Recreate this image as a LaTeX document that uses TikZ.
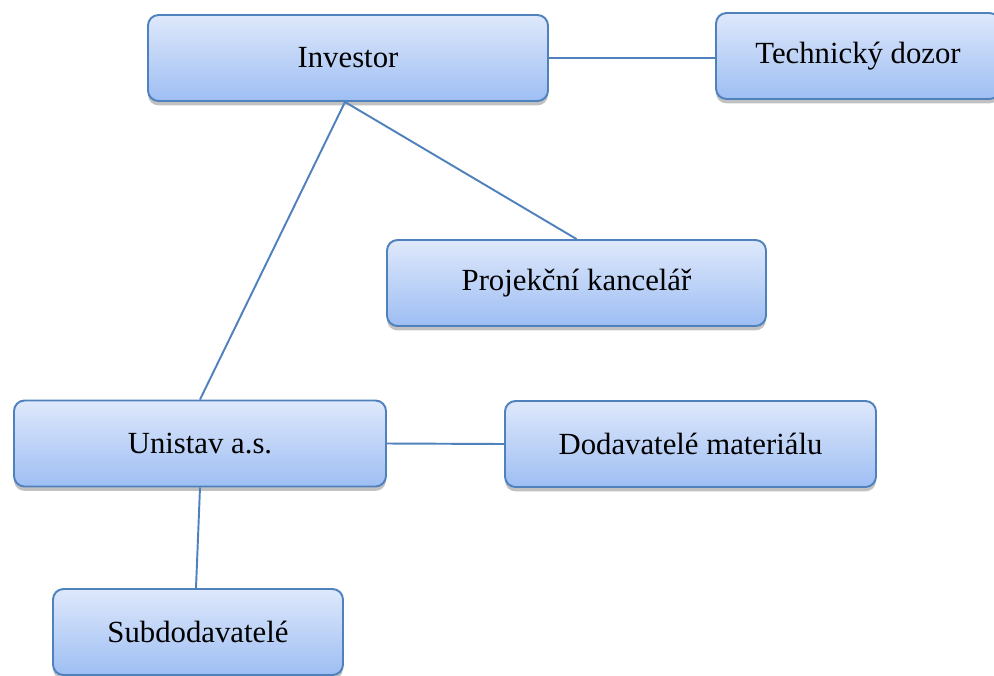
\documentclass[tikz,border=0pt]{standalone}
\usepackage{fontspec}
\setmainfont{Liberation Serif}
\usetikzlibrary{shadows}
\definecolor{linkblue}{RGB}{79,129,189}
\definecolor{boxtop}{RGB}{222,232,251}
\definecolor{boxbottom}{RGB}{158,190,243}
\tikzset{
  orgbox/.style={rectangle, rounded corners=6pt, draw=linkblue, line width=1.1pt,
    top color=boxtop, bottom color=boxbottom, minimum height=1.72cm,
    font=\fontsize{17.5}{20}\selectfont,
    drop shadow={shadow xshift=0pt, shadow yshift=-2.5pt, opacity=0.35, fill=black!70}},
  link/.style={draw=linkblue, line width=1.1pt}
}
\begin{document}
\begin{tikzpicture}
  \useasboundingbox (0,0) rectangle (19.88,-13.5);
  \node[orgbox, minimum width=8cm] (inv) at (6.96, -1.16) {Investor};
  \node[orgbox, minimum width=5.68cm] (tech) at (17.16, -1.12) {Technický dozor};
  \node[orgbox, minimum width=7.58cm] (proj) at (11.53, -5.66) {Projekční kancelář};
  \node[orgbox, minimum width=7.44cm] (uni) at (4.0, -8.87) {Unistav a.s.};
  \node[orgbox, minimum width=7.42cm] (dod) at (13.81, -8.88) {Dodavatelé materiálu};
  \node[orgbox, minimum width=5.8cm] (sub) at (3.96, -12.64) {Subdodavatelé};

  \draw[link] (inv.east) -- (inv.east -| tech.west);
  \draw[link] ([xshift=-0.06cm]inv.south) -- (proj.north);
  \draw[link] ([xshift=-0.06cm]inv.south) -- (uni.north);
  \draw[link] (uni.east) -- (dod.west);
  \draw[link] (uni.south) -- ([xshift=-0.04cm]sub.north);
\end{tikzpicture}
\end{document}
